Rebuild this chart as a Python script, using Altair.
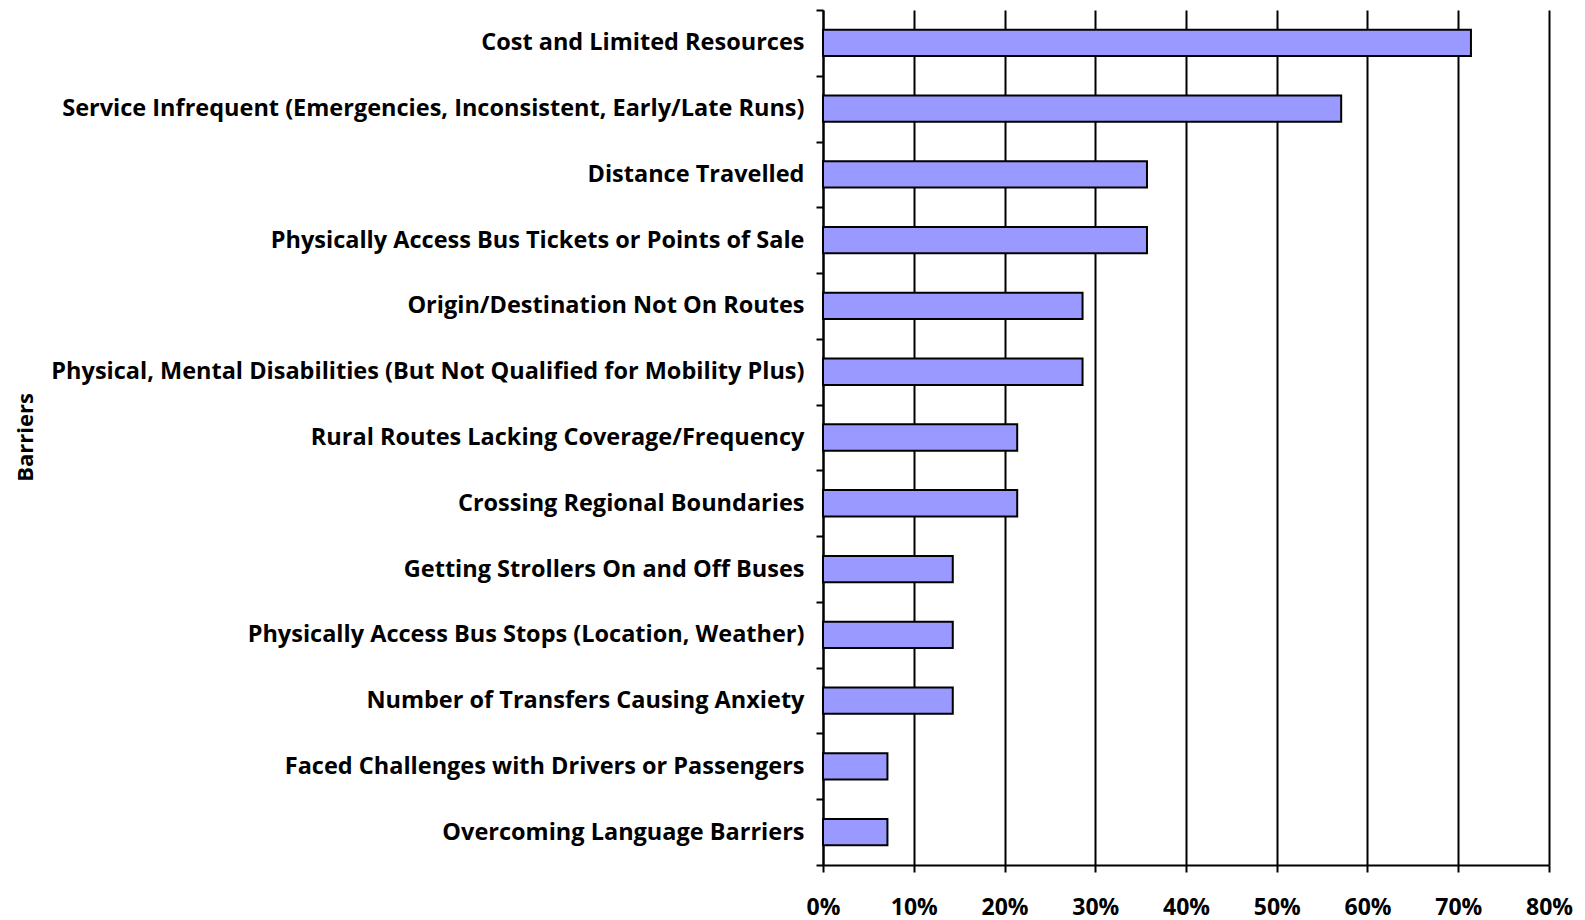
import altair as alt
import pandas as pd

barriers = [
    "Cost and Limited Resources",
    "Service Infrequent (Emergencies, Inconsistent, Early/Late Runs)",
    "Distance Travelled",
    "Physically Access Bus Tickets or Points of Sale",
    "Origin/Destination Not On Routes",
    "Physical, Mental Disabilities (But Not Qualified for Mobility Plus)",
    "Rural Routes Lacking Coverage/Frequency",
    "Crossing Regional Boundaries",
    "Getting Strollers On and Off Buses",
    "Physically Access Bus Stops (Location, Weather)",
    "Number of Transfers Causing Anxiety",
    "Faced Challenges with Drivers or Passengers",
    "Overcoming Language Barriers",
]
shares = [0.714, 0.571, 0.357, 0.357, 0.286, 0.286, 0.214, 0.214, 0.143, 0.143, 0.143, 0.071, 0.071]
x_ticks = [0, 0.1, 0.2, 0.3, 0.4, 0.5, 0.6, 0.7, 0.8]

df = pd.DataFrame({"Barrier": barriers, "Share": shares})

FONT = "Open Sans"

chart = alt.Chart(df).mark_bar(
    color="#9999FF", stroke="black", strokeWidth=2, height={"band": 0.4}
).encode(
    x=alt.X(
        "Share:Q",
        scale=alt.Scale(domain=[0, 0.8], nice=False),
        axis=alt.Axis(
            format=".0%", values=x_ticks, title=None, labelFlush=False,
            grid=True, gridColor="black", gridWidth=2, gridOpacity=1,
            domainColor="black", domainWidth=2,
            tickColor="black", tickWidth=2, tickSize=7,
            labelFont=FONT, labelFontWeight="bold", labelFontSize=23,
            labelColor="black", labelPadding=24,
        ),
    ),
    y=alt.Y(
        "Barrier:N",
        sort=barriers,
        scale=alt.Scale(paddingInner=0, paddingOuter=0),
        axis=alt.Axis(
            title="Barriers", titleFont=FONT, titleFontWeight="bold",
            titleFontSize=22, titleColor="black",
            titleX=-798, titleY=427, titleAngle=270,
            titleAlign="center", titleBaseline="middle",
            labelFont=FONT, labelFontWeight="bold", labelFontSize=23.5,
            labelColor="black", labelPadding=12, labelLimit=900,
            tickBand="extent", tickColor="black", tickWidth=2, tickSize=7,
            domainColor="black", domainWidth=2,
        ),
    ),
).properties(
    width=726, height=855,
    autosize=alt.AutoSizeParams(type="none"),
    padding={"left": 815, "top": 2, "right": 26, "bottom": 55},
).configure_view(stroke=None)

chart.save("out.html", embed_options={"renderer": "svg", "actions": False})
